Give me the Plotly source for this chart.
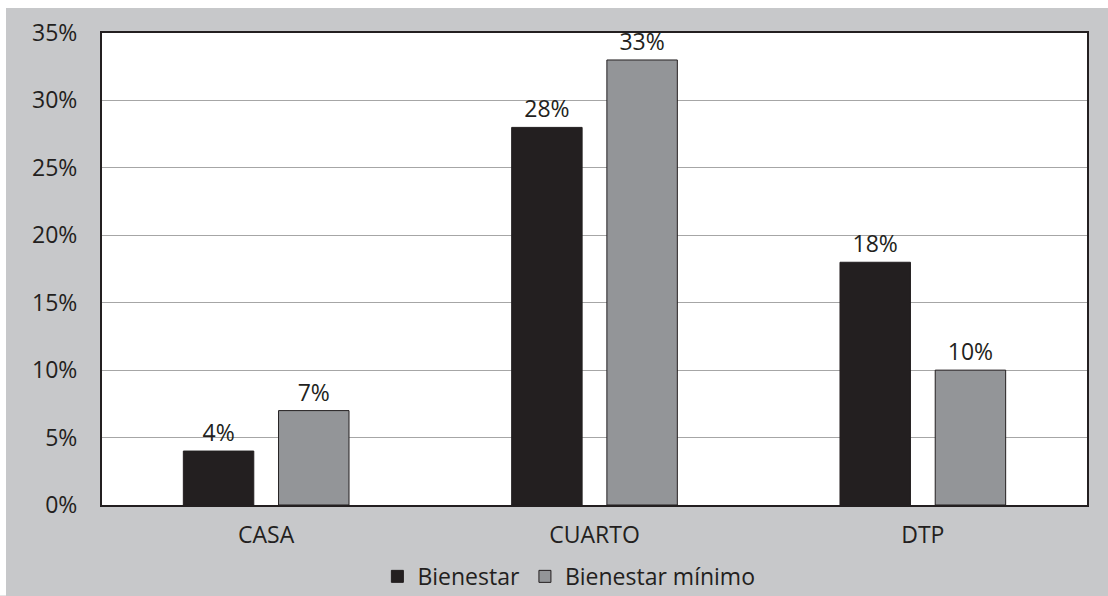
import plotly.graph_objects as go

# Share of households per housing type, two well-being thresholds
categories = ["CASA", "CUARTO", "DTP"]
bienestar = [4, 28, 18]
bienestar_minimo = [7, 33, 10]
series_names = ["Bienestar", "Bienestar mínimo"]
y_ticks = [0, 5, 10, 15, 20, 25, 30, 35]

INK = "#231f20"
DARK = "#231f20"
GREY = "#939598"
PANEL = "#c7c8ca"
FONT = "Open Sans"

fig = go.Figure()
fig.add_trace(go.Bar(
    name=series_names[0], x=categories, y=bienestar,
    marker=dict(color=DARK, line=dict(color=INK, width=1)),
    text=[f"{v}%" for v in bienestar], textposition="outside",
    textfont=dict(family=FONT, size=23, color=INK), cliponaxis=False,
))
fig.add_trace(go.Bar(
    name=series_names[1], x=categories, y=bienestar_minimo,
    marker=dict(color=GREY, line=dict(color=INK, width=1)),
    text=[f"{v}%" for v in bienestar_minimo], textposition="outside",
    textfont=dict(family=FONT, size=23, color=INK), cliponaxis=False,
))

# pixel helpers for the frame around the plot
L, R, T, B = 102, 21, 33, 90.5
W, H = 1108 - L - R, 596 - T - B
def px_x(p):
    return (p - L) / W
def px_y(p):
    return (596 - B - p) / H

fig.update_layout(
    width=1108, height=596,
    margin=dict(l=L, r=R, t=T, b=B, autoexpand=False),
    paper_bgcolor=PANEL, plot_bgcolor="white",
    barmode="group", bargap=0.42, bargroupgap=0.26,
    font=dict(family=FONT, size=23, color=INK),
    showlegend=True,
    legend=dict(orientation="h", x=0.474, xanchor="center", y=px_y(577), yanchor="middle",
                font=dict(family=FONT, size=23, color=INK), bgcolor="rgba(0,0,0,0)",
                itemwidth=30, traceorder="normal"),
    xaxis=dict(showline=True, mirror=True, linecolor=INK, linewidth=2,
               ticks="", ticklabelstandoff=8, automargin=False,
               tickfont=dict(family=FONT, size=23, color=INK)),
    yaxis=dict(range=[0, 35], tickvals=y_ticks, ticktext=[f"{v}%" for v in y_ticks],
               showgrid=True, gridcolor="#a6a6a6", gridwidth=1,
               showline=True, mirror=True, linecolor=INK, linewidth=2,
               ticks="", ticklabelstandoff=18, zeroline=False, automargin=False,
               tickfont=dict(family=FONT, size=23, color=INK)),
    shapes=[
        dict(type="rect", xref="paper", yref="paper", layer="below",
             x0=px_x(0), x1=px_x(1108), y0=px_y(8), y1=px_y(0),
             fillcolor="white", line=dict(width=0)),
        dict(type="rect", xref="paper", yref="paper", layer="below",
             x0=px_x(0), x1=px_x(6), y0=px_y(596), y1=px_y(0),
             fillcolor="white", line=dict(width=0)),
    ],
)

fig.write_html("out.html")
